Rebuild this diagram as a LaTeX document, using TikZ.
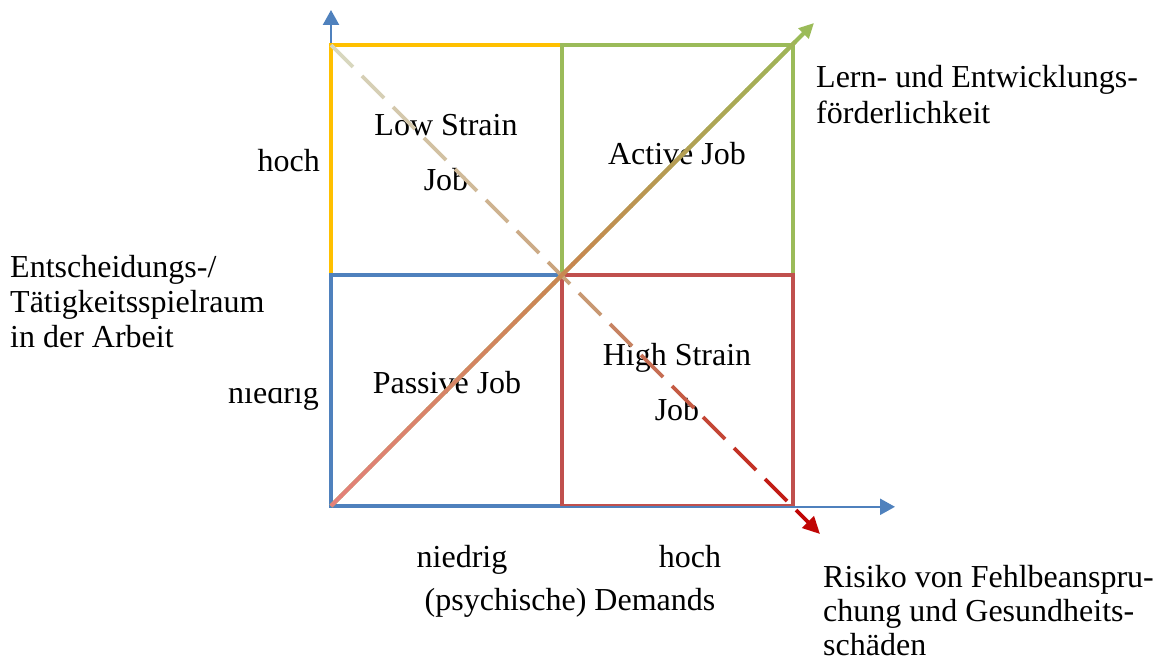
\documentclass[tikz,border=0pt]{standalone}
\usepackage{fontspec}
\setmainfont{Liberation Serif}
\usetikzlibrary{arrows.meta,calc}
\definecolor{cYel}{HTML}{FFC000}
\definecolor{cGrn}{HTML}{9BBB59}
\definecolor{cBlu}{HTML}{4F81BD}
\definecolor{cRed}{HTML}{C0504D}
% gradient stops of the solid diagonal
\definecolor{sgA}{HTML}{E4807A}
\definecolor{sgB}{HTML}{C8874F}
\definecolor{sgC}{HTML}{9BBB59}
% gradient stops of the dashed diagonal
\definecolor{dgA}{HTML}{D9D9C1}
\definecolor{dgB}{HTML}{C9A078}
\definecolor{dgC}{HTML}{C00000}
\begin{document}
\begin{tikzpicture}[x=1pt,y=-1pt,
  lbl/.style={font=\fontsize{32}{35}\selectfont, inner sep=0pt},
  quad/.style={line width=4.5pt, line join=miter},
  axis/.style={cBlu, line width=2.3pt, -{Triangle[length=15pt,width=16pt]}},
  diagline/.style={line width=4pt},
  dashline/.style={line width=3.6pt}]
\useasboundingbox (0,0) rectangle (1158,661);

% corner points of the four-field grid
\coordinate (O)  at (331,506);
\coordinate (TL) at (331,45);
\coordinate (C)  at (562,275);
\coordinate (BR) at (793,506);
\coordinate (TR) at (793,45);
\coordinate (Ytip) at (331,10);
\coordinate (Xs) at (331,506.8);
\coordinate (Xtip) at (895,506.8);
\coordinate (Gtip) at (814,23);
\coordinate (Rtip) at (820,534);

% vertical axis
\draw[axis] (O) -- (Ytip);

% the four quadrants
\draw[quad, cYel] (TL) rectangle (C);
\draw[quad, cGrn] (C |- TL) rectangle (TR |- C);
\draw[quad, cBlu] (TL |- C) rectangle (C |- O);
\draw[quad, cRed] (C) rectangle (BR);

% horizontal axis
\draw[axis] (Xs) -- (Xtip);

% quadrant labels
\node[lbl, anchor=base] (ls1) at (446,135) {Low Strain};
\node[lbl, anchor=base] (ls2) at (446,190) {Job};
\node[lbl, anchor=base] (aj)  at (677,164) {Active Job};
\node[lbl, anchor=base] (pj)  at (447,393) {Passive Job};
\node[lbl, anchor=base] (hs1) at (677,365) {High Strain};
\node[lbl, anchor=base] (hs2) at (677,420) {Job};

% axis values
\node[lbl, anchor=base east] (yhi) at (320,171) {hoch};
\begin{scope}
  \clip (150,388.5) rectangle (326,430);
  \node[lbl, anchor=base east] (ylo) at (319,403) {niedrig};
\end{scope}
\node[lbl, anchor=base] (xlo) at (462,567) {niedrig};
\node[lbl, anchor=base] (xhi) at (690,567) {hoch};

% axis titles
\node[lbl, anchor=base] (xt) at (570,610) {(psychische) Demands};
\node[lbl, anchor=base west] (yt1) at (10,277) {Entscheidungs-/};
\node[lbl, anchor=base west] (yt2) at (10,312) {Tätigkeitsspielraum};
\node[lbl, anchor=base west] (yt3) at (10,347) {in der Arbeit};

% diagonal annotations
\node[lbl, anchor=base west] (g1) at (816,87)  {Lern- und Entwicklungs-};
\node[lbl, anchor=base west] (g2) at (816,123) {förderlichkeit};
\node[lbl, anchor=base west] (r1) at (823,587) {Risiko von Fehlbeanspru-};
\node[lbl, anchor=base west] (r2) at (823,621) {chung und Gesundheits-};
\node[lbl, anchor=base west] (r3) at (823,655) {schäden};

% dashed diagonal: explicit dashes with a colour gradient
\foreach \k in {0,...,14}{
  \pgfmathsetmacro\ta{(31*\k)/489}
  \pgfmathsetmacro\tb{(31*\k+22)/489}
  \pgfmathsetmacro\t{(31*\k+11)/489}
  \pgfmathtruncatemacro\lo{\t<0.5}
  \ifnum\lo=1
    \pgfmathtruncatemacro\p{200*\t}\colorlet{segc}{dgB!\p!dgA}
  \else
    \pgfmathtruncatemacro\p{200*(\t-0.5)}\colorlet{segc}{dgC!\p!dgB}
  \fi
  \draw[dashline, segc] ($(TL)!\ta!(Rtip)$) -- ($(TL)!\tb!(Rtip)$);
}
\draw[dashline, dgC!96!dgB, -{Triangle[length=17pt,width=16pt]}]
  ($(TL)!465/489!(Rtip)$) -- (Rtip);

% solid diagonal with a colour gradient
\draw[diagline, sgC, -{Triangle[length=15pt,width=14pt]}] (O) -- (Gtip);
\foreach \i in {0,...,47}{
  \pgfmathsetmacro\ta{\i/50}
  \pgfmathsetmacro\tb{(\i+1.1)/50}
  \pgfmathsetmacro\t{(\i+0.5)/50}
  \pgfmathtruncatemacro\lo{\t<0.5}
  \ifnum\lo=1
    \pgfmathtruncatemacro\p{200*\t}\colorlet{segc}{sgB!\p!sgA}
  \else
    \pgfmathtruncatemacro\p{200*(\t-0.5)}\colorlet{segc}{sgC!\p!sgB}
  \fi
  \draw[diagline, segc] ($(O)!\ta!(Gtip)$) -- ($(O)!\tb!(Gtip)$);
}
\end{tikzpicture}
\end{document}
